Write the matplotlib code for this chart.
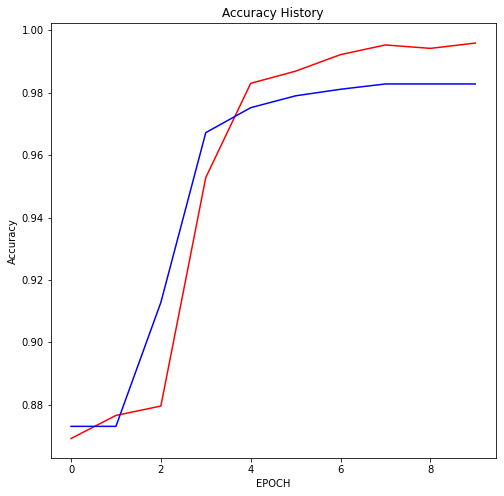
import matplotlib
matplotlib.use("Agg")
import matplotlib.pyplot as plt

# accuracy per epoch
epochs = list(range(10))
acc_red = [0.8692, 0.8766, 0.8796, 0.9528, 0.9830, 0.9869, 0.9922, 0.9953, 0.9942, 0.9959]
acc_blue = [0.8731, 0.8731, 0.9128, 0.9672, 0.9752, 0.9790, 0.9811, 0.9828, 0.9828, 0.9828]

fig = plt.figure(figsize=(7, 496 / 72), dpi=72)
ax = fig.add_axes([50.8 / 504, 37.7 / 496, 444.7 / 504, 435 / 496])

ax.plot(epochs, acc_red, color='red')
ax.plot(epochs, acc_blue, color='blue')

ax.set_title('Accuracy History')
ax.set_xlabel('EPOCH')
ax.set_ylabel('Accuracy')

fig.savefig('out.png', dpi=72)
